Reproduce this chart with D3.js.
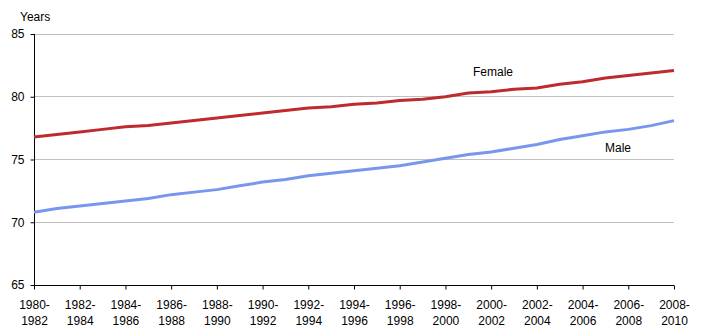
<!DOCTYPE html>
<html><head><meta charset="utf-8">
<script src="https://cdn.jsdelivr.net/npm/d3@7"></script>
<style>body{margin:0;background:#fff}text{font-family:"Liberation Sans",Arial,sans-serif}</style>
</head><body><svg id="c" width="706" height="336"></svg>
<script>
const periods = ["1980-1982","1981-1983","1982-1984","1983-1985","1984-1986","1985-1987","1986-1988","1987-1989","1988-1990","1989-1991","1990-1992","1991-1993","1992-1994","1993-1995","1994-1996","1995-1997","1996-1998","1997-1999","1998-2000","1999-2001","2000-2002","2001-2003","2002-2004","2003-2005","2004-2006","2005-2007","2006-2008","2007-2009","2008-2010"];
const female = [76.8,77.0,77.2,77.4,77.6,77.7,77.9,78.1,78.3,78.5,78.7,78.9,79.1,79.2,79.4,79.5,79.7,79.8,80.0,80.3,80.4,80.6,80.7,81.0,81.2,81.5,81.7,81.9,82.1];
const male = [70.8,71.1,71.3,71.5,71.7,71.9,72.2,72.4,72.6,72.9,73.2,73.4,73.7,73.9,74.1,74.3,74.5,74.8,75.1,75.4,75.6,75.9,76.2,76.6,76.9,77.2,77.4,77.7,78.1];
const yTicks = [65,70,75,80,85];
const tickLabels = periods.filter((d,i)=>i%2===0);

const svg = d3.select("#c");
const x = d3.scalePoint().domain(periods).range([34,674]);
const y = d3.scaleLinear().domain([65,85]).range([285,34]);

// gridlines
svg.append("g").selectAll("line").data(yTicks.filter(t=>t>65)).join("line")
  .attr("x1",34).attr("x2",674).attr("y1",d=>y(d)).attr("y2",d=>y(d))
  .attr("stroke","#c0c0c0").attr("stroke-width",1).attr("shape-rendering","crispEdges");

// y axis
const ya = svg.append("g").attr("transform","translate(34.5,0)")
  .call(d3.axisLeft(y).tickValues(yTicks).tickSize(4).tickPadding(6));
ya.select(".domain").attr("stroke","#000").attr("d",`M0,${y(85)}V${y(65)}`);
ya.selectAll(".tick line").attr("stroke","#000");
ya.selectAll("text").attr("font-size",12).attr("fill","#000");

// x axis
const xa = svg.append("g").attr("transform","translate(0,285.5)")
  .call(d3.axisBottom(x).tickValues(tickLabels).tickSize(4).tickSizeOuter(0).tickFormat(""));
xa.select(".domain").attr("stroke","#000").attr("d",`M34,0H674`);
xa.selectAll(".tick line").attr("stroke","#000");
xa.selectAll(".tick").each(function(d){
  const parts = d.split("-");
  const t = d3.select(this).append("text").attr("fill","#000").attr("font-size",12).attr("text-anchor","middle");
  t.append("tspan").attr("x",0).attr("y",23).text(parts[0]+"-");
  t.append("tspan").attr("x",0).attr("y",39).text(parts[1]);
});

// lines
const line = vals => d3.line().x((d,i)=>x(periods[i])).y(d=>y(d))(vals);
svg.append("path").attr("d",line(male)).attr("fill","none").attr("stroke","#7896EC").attr("stroke-width",3);
svg.append("path").attr("d",line(female)).attr("fill","none").attr("stroke","#BE2A2E").attr("stroke-width",3);

// labels
svg.append("text").attr("x",20).attr("y",21).attr("font-size",12).text("Years");
svg.append("text").attr("x",473).attr("y",76).attr("font-size",12).text("Female");
svg.append("text").attr("x",605).attr("y",152).attr("font-size",12).text("Male");
</script></body></html>
